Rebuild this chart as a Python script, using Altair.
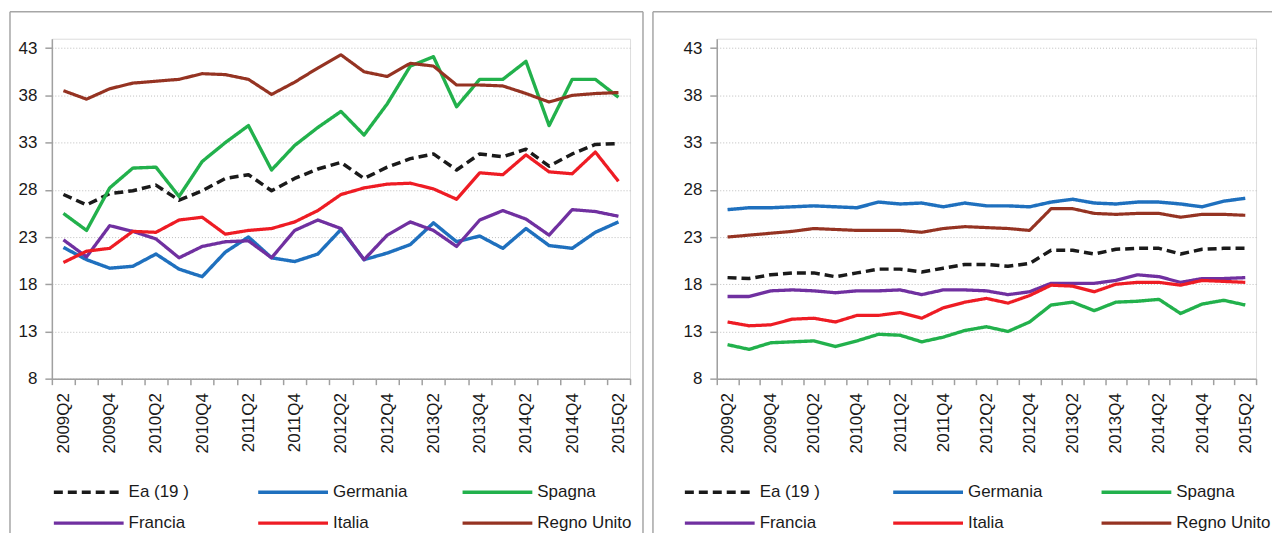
import altair as alt
import pandas as pd

quarters = ["2009Q2", "2009Q3", "2009Q4", "2010Q1", "2010Q2", "2010Q3", "2010Q4",
            "2011Q1", "2011Q2", "2011Q3", "2011Q4", "2012Q1", "2012Q2", "2012Q3",
            "2012Q4", "2013Q1", "2013Q2", "2013Q3", "2013Q4", "2014Q1", "2014Q2",
            "2014Q3", "2014Q4", "2015Q1", "2015Q2"]

series = ["Ea (19 )", "Germania", "Spagna", "Francia", "Italia", "Regno Unito"]

# Left panel (15-24 anni)
ea_l = [27.5, 26.4, 27.6, 27.9, 28.5, 26.9, 27.9, 29.2, 29.6, 27.9, 29.2, 30.2, 30.9,
        29.2, 30.4, 31.3, 31.8, 30.1, 31.8, 31.5, 32.3, 30.5, 31.8, 32.8, 32.9]
germania_l = [21.9, 20.6, 19.7, 19.9, 21.2, 19.6, 18.8, 21.4, 23.0, 20.8, 20.4, 21.2, 23.8,
              20.6, 21.3, 22.2, 24.5, 22.5, 23.1, 21.8, 23.9, 22.1, 21.8, 23.5, 24.6]
spagna_l = [25.5, 23.7, 28.2, 30.3, 30.4, 27.3, 31.0, 33.0, 34.8, 30.1, 32.7, 34.6, 36.3,
            33.8, 37.1, 41.1, 42.1, 36.8, 39.7, 39.7, 41.6, 34.8, 39.7, 39.7, 37.8]
francia_l = [22.7, 20.9, 24.2, 23.6, 22.8, 20.8, 22.0, 22.5, 22.6, 20.8, 23.7, 24.8, 23.9,
             20.6, 23.2, 24.6, 23.7, 22.0, 24.8, 25.8, 24.9, 23.2, 25.9, 25.7, 25.2]
italia_l = [20.3, 21.5, 21.8, 23.6, 23.5, 24.8, 25.1, 23.3, 23.7, 23.9, 24.6, 25.8, 27.5,
            28.2, 28.6, 28.7, 28.1, 27.0, 29.8, 29.6, 31.7, 29.9, 29.7, 32.0, 28.9]
regno_l = [38.5, 37.6, 38.7, 39.3, 39.5, 39.7, 40.3, 40.2, 39.7, 38.1, 39.4, 40.9, 42.3,
           40.5, 40.0, 41.4, 41.1, 39.1, 39.1, 39.0, 38.2, 37.3, 38.0, 38.2, 38.3]

# Right panel (25-64 anni)
ea_r = [18.7, 18.6, 19.0, 19.2, 19.2, 18.8, 19.2, 19.6, 19.6, 19.3, 19.7, 20.1, 20.1,
        19.9, 20.2, 21.6, 21.6, 21.2, 21.7, 21.8, 21.8, 21.2, 21.7, 21.8, 21.8]
germania_r = [25.9, 26.1, 26.1, 26.2, 26.3, 26.2, 26.1, 26.7, 26.5, 26.6, 26.2, 26.6, 26.3,
              26.3, 26.2, 26.7, 27.0, 26.6, 26.5, 26.7, 26.7, 26.5, 26.2, 26.8, 27.1]
spagna_r = [11.6, 11.1, 11.8, 11.9, 12.0, 11.4, 12.0, 12.7, 12.6, 11.9, 12.4, 13.1, 13.5,
            13.0, 14.0, 15.8, 16.1, 15.2, 16.1, 16.2, 16.4, 14.9, 15.9, 16.3, 15.8]
francia_r = [16.7, 16.7, 17.3, 17.4, 17.3, 17.1, 17.3, 17.3, 17.4, 16.9, 17.4, 17.4, 17.3,
             16.9, 17.2, 18.1, 18.1, 18.1, 18.4, 19.0, 18.8, 18.2, 18.6, 18.6, 18.7]
italia_r = [14.0, 13.6, 13.7, 14.3, 14.4, 14.0, 14.7, 14.7, 15.0, 14.4, 15.5, 16.1, 16.5,
            16.0, 16.8, 17.9, 17.8, 17.2, 18.0, 18.2, 18.2, 17.9, 18.4, 18.3, 18.2]
regno_r = [23.0, 23.2, 23.4, 23.6, 23.9, 23.8, 23.7, 23.7, 23.7, 23.5, 23.9, 24.1, 24.0,
           23.9, 23.7, 26.0, 26.0, 25.5, 25.4, 25.5, 25.5, 25.1, 25.4, 25.4, 25.3]

y_ticks = [8, 13, 18, 23, 28, 33, 38, 43]

colors = ["#1a1a1a", "#1f70be", "#22b14c", "#7030a0", "#ee1c24", "#953322"]
dashes = [[9, 5], [1, 0], [1, 0], [1, 0], [1, 0], [1, 0]]
widths_left = [3.5, 3.2, 5, 3.2, 3.2, 5]
widths_right = [3.5, 3.2, 3.2, 3.2, 3.5, 4.5]

FONT = "Liberation Sans"
TXT = "#1a1a1a"
AXC = "#a0a0a0"


def make_df(cols):
    rows = []
    for name, vals in zip(series, cols):
        for i, v in enumerate(vals):
            rows.append({"serie": name, "i": i, "q": quarters[i], "v": v})
    return pd.DataFrame(rows)


def panel(cols, widths, plot_w, frame_l, frame_r, leg_x, col_pad, right_line):
    df = make_df(cols)
    xscale = alt.Scale(domain=[-0.5, len(quarters) - 0.5], nice=False, zero=False)
    yscale = alt.Scale(domain=[8, 44], nice=False, zero=False)
    label_expr = "[" + ",".join("'%s'" % q for q in quarters) + "][round(datum.value)]"
    leg = alt.Legend(
        title=None, orient="none", legendX=leg_x, legendY=443, columns=3,
        direction="horizontal",
        symbolType="M-3.5,0H3.5", symbolSize=400, labelFont=FONT, labelFontSize=17,
        labelColor=TXT, labelOffset=28, columnPadding=col_pad, rowPadding=11,
        gridAlign="all", padding=0, labelLimit=200,
    )
    lines = alt.Chart(df).mark_line(strokeJoin="round", strokeCap="butt").encode(
        x=alt.X("i:Q", scale=xscale, axis=alt.Axis(
            orient="bottom",
            values=list(range(0, len(quarters), 2)), labelExpr=label_expr,
            labelAngle=-90, labelAlign="right", labelBaseline="middle",
            labelFont=FONT, labelFontSize=17, labelColor=TXT, labelPadding=14,
            ticks=False, domain=False, grid=False, title=None)),
        y=alt.Y("v:Q", scale=yscale, axis=alt.Axis(
            values=y_ticks, labelFont=FONT, labelFontSize=17, labelColor=TXT,
            labelPadding=8, tickSize=7, tickColor=AXC, tickWidth=1.5,
            domainColor=AXC, domainWidth=1.5, grid=True, gridColor="#bdbdbd",
            gridDash=[1, 2], gridWidth=1, title=None)),
        color=alt.Color("serie:N", scale=alt.Scale(domain=series, range=colors), legend=leg),
        strokeDash=alt.StrokeDash("serie:N", scale=alt.Scale(domain=series, range=dashes), legend=leg),
        strokeWidth=alt.StrokeWidth("serie:N", scale=alt.Scale(domain=series, range=widths), legend=leg),
        order="i:Q",
    )
    ticks_layer = alt.Chart(df).mark_line(opacity=0).encode(
        x=alt.X("i:Q", scale=xscale, axis=alt.Axis(
            orient="bottom",
            values=[k - 0.5 for k in range(len(quarters) + 1)], labels=False,
            tickSize=6, tickColor=AXC, tickWidth=1.5, domainColor=AXC,
            domainWidth=1.5, grid=False, title=None)),
        y=alt.value(0),
        detail="serie:N",
    )
    fr = pd.DataFrame({"k": [0]})
    frame_style = dict(color="#a6a6a6", strokeWidth=1.5)
    layers = [lines, ticks_layer]
    layers.append(alt.Chart(fr).mark_rule(**frame_style).encode(
        x=alt.value(frame_l), x2=alt.value(frame_r), y=alt.value(-27)))
    layers.append(alt.Chart(fr).mark_rule(**frame_style).encode(
        x=alt.value(frame_l), y=alt.value(-27), y2=alt.value(508)))
    if right_line:
        layers.append(alt.Chart(fr).mark_rule(**frame_style).encode(
            x=alt.value(frame_r), y=alt.value(-27), y2=alt.value(508)))
    return alt.layer(*layers).resolve_axis(
        x="independent").properties(width=plot_w, height=341)


left_panel = panel([ea_l, germania_l, spagna_l, francia_l, italia_l, regno_l],
                   widths_left, 580, -42, 593, 25, 28, True)
right_panel = panel([ea_r, germania_r, spagna_r, francia_r, italia_r, regno_r],
                    widths_right, 541, -64, 557, -9, 32, False)

chart = alt.hconcat(left_panel, right_panel, spacing=6).resolve_scale(
    color="independent", strokeDash="independent", strokeWidth="independent"
).resolve_legend(
    color="independent", strokeDash="independent", strokeWidth="independent"
).properties(
    padding={"left": 0, "top": 1, "right": 0, "bottom": -14}
).configure_view(stroke=None).configure(background="white")

chart.save("out.html", embed_options={"renderer": "svg", "actions": False})
